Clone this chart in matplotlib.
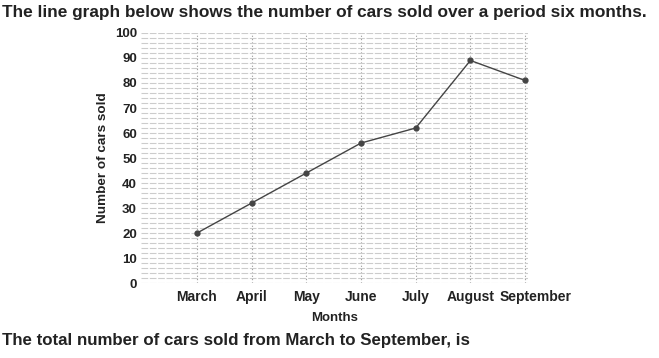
import matplotlib.pyplot as plt
from matplotlib.transforms import ScaledTranslation

plt.rcParams['font.family'] = ['Liberation Sans', 'DejaVu Sans']

months = ["March", "April", "May", "June", "July", "August", "September"]
cars_sold = [20, 32, 44, 56, 62, 89, 81]
y_ticks = [0, 10, 20, 30, 40, 50, 60, 70, 80, 90, 100]

fig = plt.figure(figsize=(6.59, 3.58), dpi=100)
ax = fig.add_axes([0.214, 0.209, 0.587, 0.699])

x = list(range(len(months)))
ax.plot(x, cars_sold, "o-", color="#444444", lw=1, ms=3.5)

ax.set_xlim(-1.02, 6.05)
ax.set_ylim(0, 100)
ax.set_xticks(x)
ax.set_xticklabels(months, fontsize=10, fontweight="bold", color="#222222")
ax.set_yticks(y_ticks)
ax.set_yticklabels([str(v) for v in y_ticks], fontsize=9.5, fontweight="bold", color="#222222")
ax.set_yticks(range(0, 101, 2), minor=True)
ax.tick_params(length=0, which="both")
ax.tick_params(axis="x", pad=5)
ax.tick_params(axis="y", pad=3)

# September sits a bit to the right of its gridline in the original
last = ax.get_xticklabels()[-1]
last.set_transform(last.get_transform() + ScaledTranslation(0.1, 0, fig.dpi_scale_trans))

ax.grid(True, axis="y", which="both", color="#cccccc", lw=0.8, ls=(0, (6, 1.5)))
ax.grid(True, axis="x", color="#999999", lw=0.8, ls=(0, (1, 2)))
for s in ax.spines.values():
    s.set_visible(False)

ax.set_xlabel("Months", fontsize=9.5, fontweight="bold", color="#222222", labelpad=6)
ax.set_ylabel("Number of cars sold", fontsize=9.7, fontweight="bold", color="#222222", labelpad=4)

fig.text(0.003, 0.965, "The line graph below shows the number of cars sold over a period six months.",
         fontsize=12.45, fontweight="bold", color="#222222", va="center")
fig.text(0.003, 0.048, "The total number of cars sold from March to September, is",
         fontsize=12.15, fontweight="bold", color="#222222", va="center")

fig.savefig("out.png", dpi=100)
